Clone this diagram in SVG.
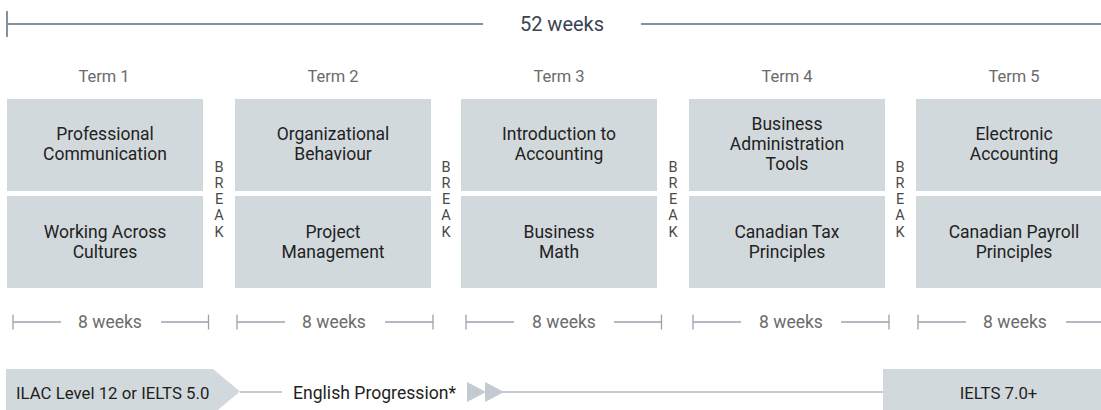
<svg xmlns="http://www.w3.org/2000/svg" width="1101" height="410" viewBox="0 0 1101 410">
<style>
  .box { fill: #d2d9dd; }
  .bt { font-family: Roboto, "Liberation Sans", sans-serif; font-size: 17.5px; fill: #222222; text-anchor: middle; }
  .term { font-family: Roboto, "Liberation Sans", sans-serif; font-size: 16.5px; fill: #6b6b6b; text-anchor: middle; }
  .brk { font-family: Roboto, "Liberation Sans", sans-serif; font-size: 14.5px; fill: #4a4a4a; text-anchor: middle; }
  .wk { font-family: Roboto, "Liberation Sans", sans-serif; font-size: 17.5px; fill: #6b6b6b; text-anchor: middle; }
  .top { font-family: Roboto, "Liberation Sans", sans-serif; font-size: 20px; fill: #3a4350; text-anchor: middle; }
  .bot { font-family: Roboto, "Liberation Sans", sans-serif; font-size: 16.8px; fill: #1e1e1e; }
  .topline { stroke: #8591a0; stroke-width: 2; fill: none; }
  .wline { stroke: #9aa3ad; stroke-width: 1.3; fill: none; }
  .pline { stroke: #8e98a3; stroke-width: 1.2; fill: none; }
  .tri { fill: #c3cad1; }
</style>

<g id="connectors">
  <!-- 52 weeks span -->
  <line class="topline" x1="7" y1="24" x2="483" y2="24"/>
  <line class="topline" x1="7" y1="11" x2="7" y2="37"/>
  <line class="topline" x1="641" y1="24" x2="1101" y2="24"/>
  <!-- 8 weeks spans -->
  <g class="wline">
    <path d="M13 314.5V329.5M13 322H61M161 322H208.5M208.5 314.5V329.5"/>
    <path d="M237 314.5V329.5M237 322H285M385 322H433M433 314.5V329.5"/>
    <path d="M466 314.5V329.5M466 322H514M614 322H661.5M661.5 314.5V329.5"/>
    <path d="M693 314.5V329.5M693 322H741M841 322H889M889 314.5V329.5"/>
    <path d="M918 314.5V329.5M918 322H966M1066 322H1101"/>
  </g>
  <!-- English progression line -->
  <line class="pline" x1="240" y1="392" x2="282" y2="392"/>
  <line class="pline" x1="500" y1="392" x2="884" y2="392"/>
  <polygon class="tri" points="467,382 486,392 467,402"/>
  <polygon class="tri" points="485,382 504,392 485,402"/>
</g>

<g id="labels">
  <text class="top" x="562" y="31">52 weeks</text>
  <text class="term" x="104" y="82">Term 1</text>
  <text class="term" x="333" y="82">Term 2</text>
  <text class="term" x="559" y="82">Term 3</text>
  <text class="term" x="787" y="82">Term 4</text>
  <text class="term" x="1014" y="82">Term 5</text>
  <text class="wk" x="110" y="328">8 weeks</text>
  <text class="wk" x="334" y="328">8 weeks</text>
  <text class="wk" x="564" y="328">8 weeks</text>
  <text class="wk" x="791" y="328">8 weeks</text>
  <text class="wk" x="1015" y="328">8 weeks</text>
</g>

<g id="term1-a">
  <rect class="box" x="7" y="99" width="196" height="92"/>
  <text class="bt" x="105" y="140">Professional</text>
  <text class="bt" x="105" y="160">Communication</text>
</g>
<g id="term1-b">
  <rect class="box" x="7" y="196" width="196" height="92"/>
  <text class="bt" x="105" y="238">Working Across</text>
  <text class="bt" x="105" y="258">Cultures</text>
</g>
<g id="break1">
  <text class="brk" x="219" y="171.5">B</text>
  <text class="brk" x="219" y="187.5">R</text>
  <text class="brk" x="219" y="203.5">E</text>
  <text class="brk" x="219" y="220">A</text>
  <text class="brk" x="219" y="236.5">K</text>
</g>

<g id="term2-a">
  <rect class="box" x="235" y="99" width="196" height="92"/>
  <text class="bt" x="333" y="140">Organizational</text>
  <text class="bt" x="333" y="160">Behaviour</text>
</g>
<g id="term2-b">
  <rect class="box" x="235" y="196" width="196" height="92"/>
  <text class="bt" x="333" y="238">Project</text>
  <text class="bt" x="333" y="258">Management</text>
</g>
<g id="break2">
  <text class="brk" x="446" y="171.5">B</text>
  <text class="brk" x="446" y="187.5">R</text>
  <text class="brk" x="446" y="203.5">E</text>
  <text class="brk" x="446" y="220">A</text>
  <text class="brk" x="446" y="236.5">K</text>
</g>

<g id="term3-a">
  <rect class="box" x="461" y="99" width="196" height="92"/>
  <text class="bt" x="559" y="140">Introduction to</text>
  <text class="bt" x="559" y="160">Accounting</text>
</g>
<g id="term3-b">
  <rect class="box" x="461" y="196" width="196" height="92"/>
  <text class="bt" x="559" y="238">Business</text>
  <text class="bt" x="559" y="258">Math</text>
</g>
<g id="break3">
  <text class="brk" x="673" y="171.5">B</text>
  <text class="brk" x="673" y="187.5">R</text>
  <text class="brk" x="673" y="203.5">E</text>
  <text class="brk" x="673" y="220">A</text>
  <text class="brk" x="673" y="236.5">K</text>
</g>

<g id="term4-a">
  <rect class="box" x="689" y="99" width="196" height="92"/>
  <text class="bt" x="787" y="129.5">Business</text>
  <text class="bt" x="787" y="150">Administration</text>
  <text class="bt" x="787" y="170">Tools</text>
</g>
<g id="term4-b">
  <rect class="box" x="689" y="196" width="196" height="92"/>
  <text class="bt" x="787" y="238">Canadian Tax</text>
  <text class="bt" x="787" y="258">Principles</text>
</g>
<g id="break4">
  <text class="brk" x="900" y="171.5">B</text>
  <text class="brk" x="900" y="187.5">R</text>
  <text class="brk" x="900" y="203.5">E</text>
  <text class="brk" x="900" y="220">A</text>
  <text class="brk" x="900" y="236.5">K</text>
</g>

<g id="term5-a">
  <rect class="box" x="916" y="99" width="196" height="92"/>
  <text class="bt" x="1014" y="140">Electronic</text>
  <text class="bt" x="1014" y="160">Accounting</text>
</g>
<g id="term5-b">
  <rect class="box" x="916" y="196" width="196" height="92"/>
  <text class="bt" x="1014" y="238">Canadian Payroll</text>
  <text class="bt" x="1014" y="258">Principles</text>
</g>

<g id="start-level">
  <polygon class="box" points="6,369 213,369 240,391.5 213,414 6,414"/>
  <text class="bot" x="16" y="398.5">ILAC Level 12 or IELTS 5.0</text>
</g>
<g id="progression-label">
  <text class="bot" x="293" y="398.5" style="font-size:17.6px">English Progression*</text>
</g>
<g id="end-level">
  <rect class="box" x="883" y="369" width="230" height="45"/>
  <text class="bot" x="998.5" y="398.5" text-anchor="middle">IELTS 7.0+</text>
</g>
</svg>
